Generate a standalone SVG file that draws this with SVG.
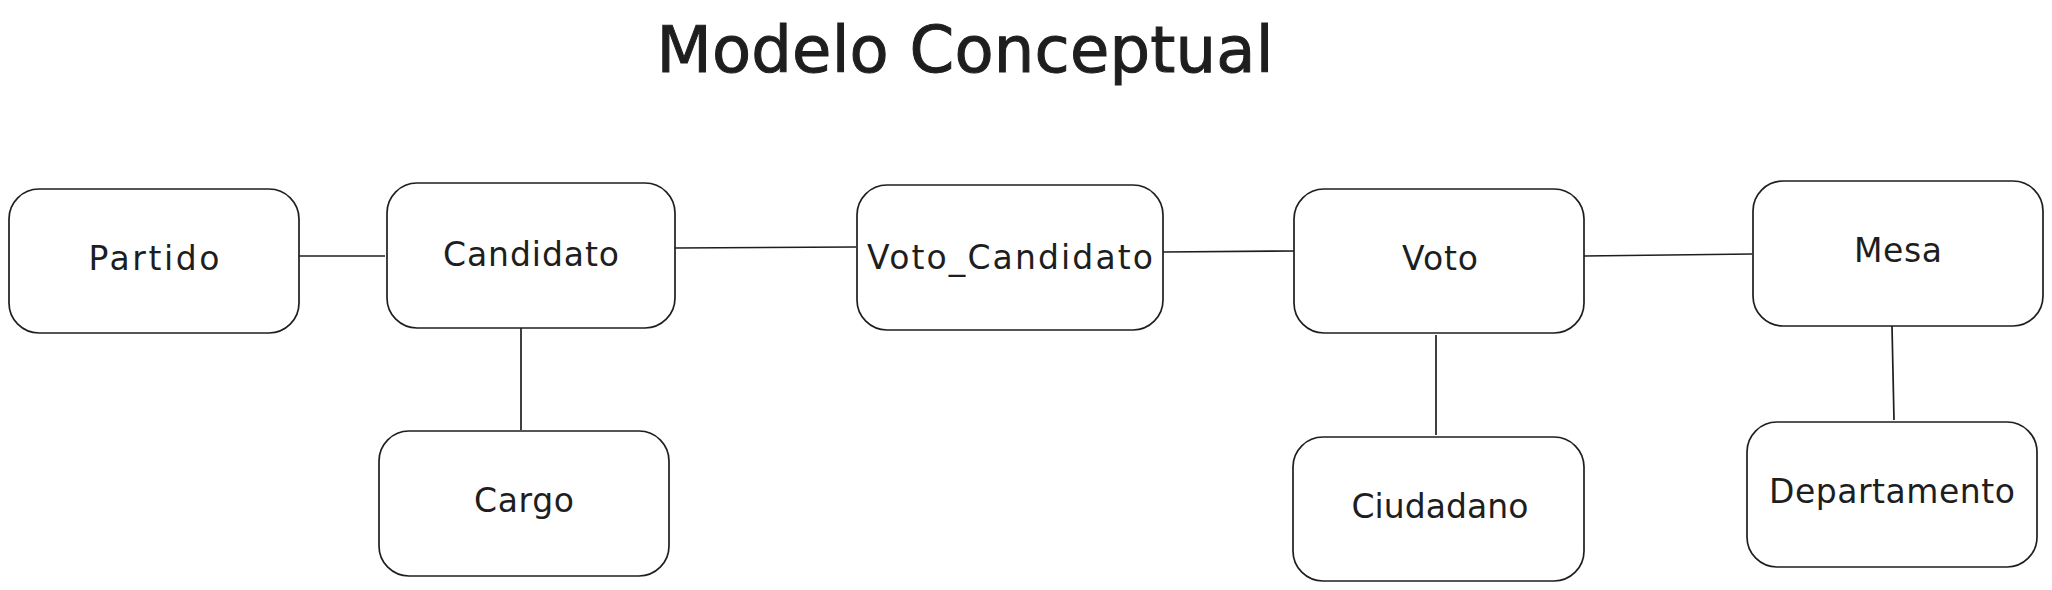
<svg xmlns="http://www.w3.org/2000/svg" width="2052" height="590" viewBox="0 0 2052 590">
<style>
.box{fill:#ffffff;stroke:#1e1e1e;stroke-width:1.7}
.lbl{font-family:"DejaVu Sans","Liberation Sans",sans-serif;font-size:33px;fill:#1e1e1e;text-anchor:middle}
.title{font-family:"DejaVu Sans","Liberation Sans",sans-serif;font-size:64px;fill:#1e1e1e;text-anchor:middle;stroke:#1e1e1e;stroke-width:1}
.edge{stroke:#1e1e1e;stroke-width:1.7;fill:none}
</style>
<rect width="2052" height="590" fill="#ffffff"/>
<text class="title" x="965" y="72" textLength="617" lengthAdjust="spacing">Modelo Conceptual</text>
<g id="connectors">
<line class="edge" x1="299" y1="256" x2="385" y2="256"/>
<line class="edge" x1="675" y1="248" x2="856" y2="247"/>
<line class="edge" x1="521" y1="326" x2="521" y2="430"/>
<line class="edge" x1="1163" y1="252" x2="1294" y2="251"/>
<line class="edge" x1="1436" y1="335" x2="1436" y2="435"/>
<line class="edge" x1="1584" y1="256" x2="1752" y2="254"/>
<line class="edge" x1="1892" y1="326" x2="1894" y2="420"/>
</g>
<g id="partido">
<rect class="box" x="9" y="189" width="290" height="144" rx="30"/>
<text class="lbl" x="154" y="270" textLength="131" lengthAdjust="spacing">Partido</text>
</g>
<g id="candidato">
<rect class="box" x="387" y="183" width="288" height="145" rx="30"/>
<text class="lbl" x="531" y="266" textLength="176" lengthAdjust="spacing">Candidato</text>
</g>
<g id="cargo">
<rect class="box" x="379" y="431" width="290" height="145" rx="30"/>
<text class="lbl" x="524" y="512" textLength="100" lengthAdjust="spacing">Cargo</text>
</g>
<g id="voto_candidato">
<rect class="box" x="857" y="185" width="306" height="145" rx="30"/>
<text class="lbl" x="1010" y="269" textLength="286" lengthAdjust="spacing">Voto_Candidato</text>
</g>
<g id="voto">
<rect class="box" x="1294" y="189" width="290" height="144" rx="30"/>
<text class="lbl" x="1440" y="270" textLength="76" lengthAdjust="spacing">Voto</text>
</g>
<g id="ciudadano">
<rect class="box" x="1293" y="437" width="291" height="144" rx="30"/>
<text class="lbl" x="1440" y="518" textLength="177" lengthAdjust="spacing">Ciudadano</text>
</g>
<g id="mesa">
<rect class="box" x="1753" y="181" width="290" height="145" rx="30"/>
<text class="lbl" x="1898" y="262" textLength="88" lengthAdjust="spacing">Mesa</text>
</g>
<g id="departamento">
<rect class="box" x="1747" y="422" width="290" height="145" rx="30"/>
<text class="lbl" x="1892" y="503" textLength="246" lengthAdjust="spacing">Departamento</text>
</g>
</svg>
